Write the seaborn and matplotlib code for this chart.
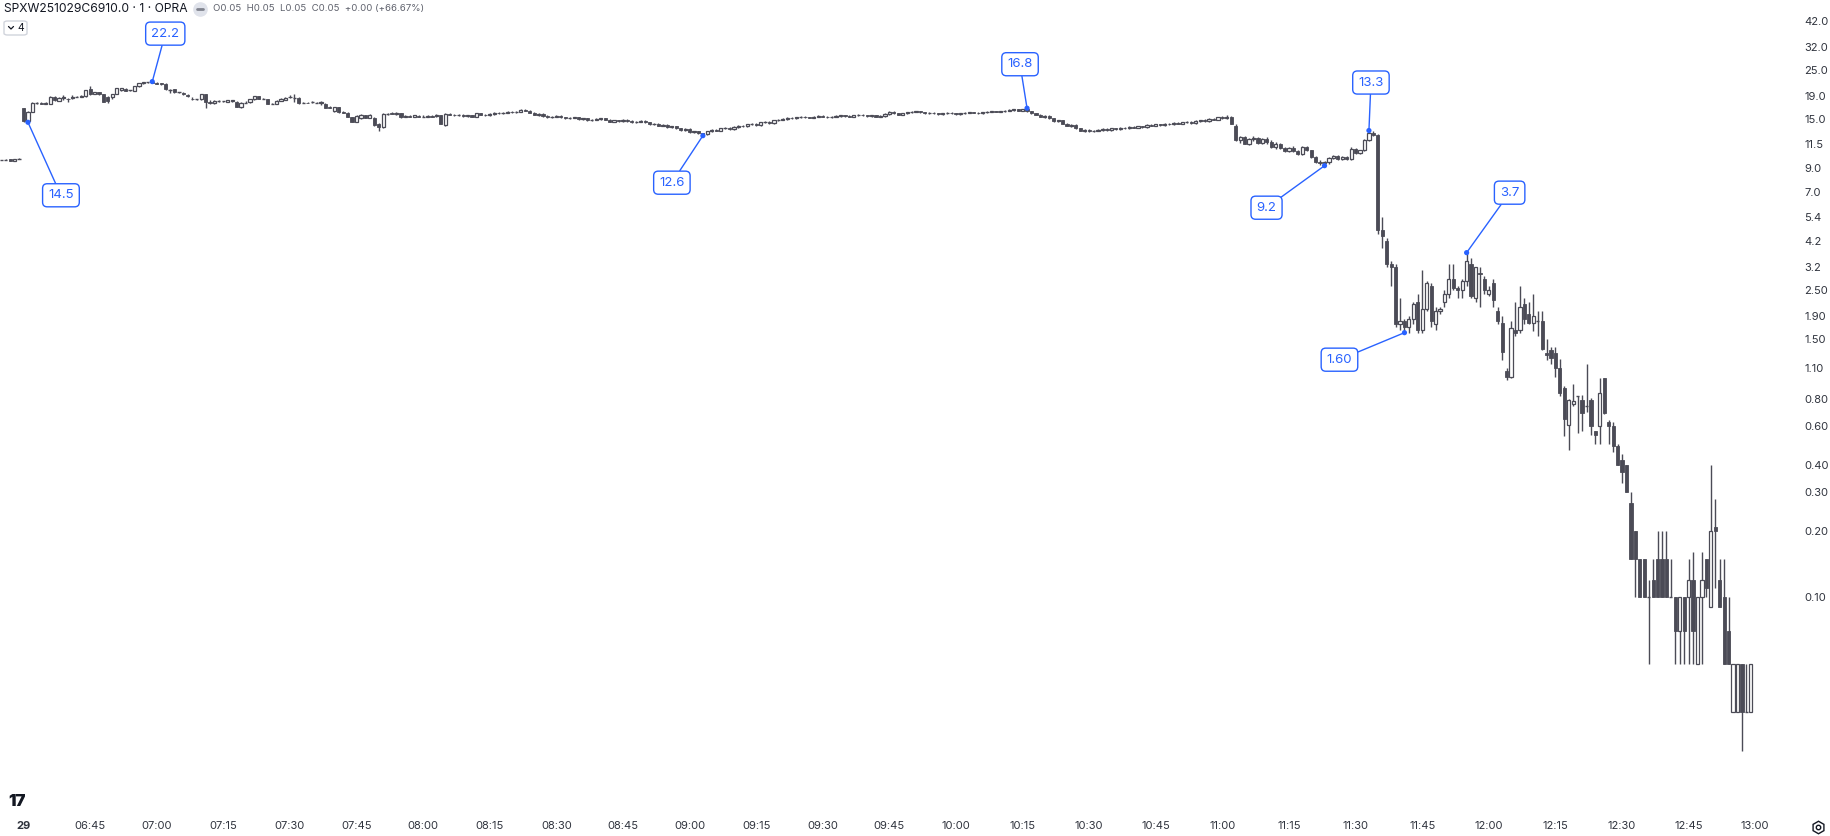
import numpy as np
import pandas as pd
import matplotlib
matplotlib.use("Agg")
import matplotlib.pyplot as plt
import seaborn as sns
from matplotlib.patches import FancyBboxPatch
from matplotlib.lines import Line2D

# ---------------- data (1-minute bars, SPXW251029C6910.0) ----------------
# five last bars of the previous session, then 06:30 ... 12:59 of the 29th
open_ = [
    9.8, 9.8, 9.85, 9.7, 9.9,
    16.8, 14.7, 16.2, 17.8, 17.8, 17.6, 17.6, 18.9, 18.2, 18.7,
    18.6, 18.7, 18.9, 18.9, 19.0, 20.6, 19.5, 19.9, 19.4, 18.9,
    18.8, 19.5, 20.3, 20.6, 20.3, 20.2, 21.1, 21.8, 22.0, 22.1,
    21.9, 21.8, 21.7, 20.3, 20.5, 19.9, 19.8, 19.3, 18.6, 18.5,
    18.5, 19.4, 17.9, 17.7, 18.2, 18.1, 18.0, 18.1, 18.0, 17.0,
    17.8, 17.9, 18.5, 19.0, 18.6, 18.5, 17.6, 17.6, 18.2, 18.4,
    18.8, 18.7, 18.7, 17.8, 17.8, 17.9, 17.8, 17.8, 17.6, 17.1,
    16.4, 17.0, 16.2, 16.0, 15.3, 14.6, 15.1, 15.6, 15.2, 15.2,
    14.3, 13.8, 15.8, 15.9, 15.8, 15.9, 15.4, 15.5, 15.4, 15.5,
    15.4, 15.4, 15.5, 15.5, 15.6, 14.1, 15.8, 15.7, 15.6, 15.7,
    15.5, 15.6, 15.4, 15.9, 15.7, 15.6, 15.8, 16.0, 15.9, 16.0,
    16.2, 16.1, 16.2, 16.5, 16.4, 16.0, 15.7, 15.8, 15.5, 15.3,
    15.4, 15.5, 15.3, 15.1, 15.2, 15.3, 15.0, 15.1, 14.8, 14.9,
    15.0, 15.1, 14.9, 14.6, 14.8, 14.7, 14.9, 14.7, 14.5, 14.6,
    14.7, 14.5, 14.2, 14.3, 14.0, 14.1, 13.8, 13.9, 13.6, 13.4,
    13.5, 13.1, 13.2, 12.9, 12.8, 13.2, 13.4, 13.3, 13.6, 13.7,
    13.5, 13.8, 14.0, 13.9, 14.2, 14.3, 14.1, 14.5, 14.6, 14.4,
    14.8, 14.9, 15.0, 15.2, 15.1, 15.3, 15.4, 15.3, 15.2, 15.4,
    15.5, 15.4, 15.3, 15.4, 15.5, 15.6, 15.5, 15.4, 15.6, 15.7,
    15.6, 15.5, 15.6, 15.4, 15.5, 15.8, 16.2, 15.9, 15.7, 15.9,
    16.1, 16.2, 16.3, 16.1, 15.9, 16.0, 15.9, 15.8, 15.9, 16.0,
    15.9, 15.8, 15.9, 16.0, 16.1, 16.0, 15.9, 16.1, 16.2, 16.3,
    16.2, 16.3, 16.4, 16.5, 16.6, 16.4, 16.7, 16.3, 15.9, 15.7,
    15.4, 15.5, 15.1, 14.7, 14.8, 14.3, 14.0, 14.1, 13.6, 13.3,
    13.4, 13.2, 13.3, 13.4, 13.5, 13.4, 13.6, 13.5, 13.7, 13.6,
    13.8, 13.7, 13.9, 13.8, 14.1, 14.0, 14.2, 14.1, 14.3, 14.2,
    14.4, 14.3, 14.5, 14.6, 14.4, 14.7, 14.8, 14.7, 15.0, 14.9,
    15.3, 15.1, 15.4, 14.0, 12.1, 12.4, 11.6, 12.2, 12.3, 11.7,
    12.2, 11.8, 11.2, 11.6, 11.1, 10.7, 11.1, 10.7, 10.4, 11.2,
    10.8, 10.1, 9.6, 9.5, 9.6, 10.0, 10.2, 9.9, 10.1, 9.9,
    11.0, 10.5, 10.8, 12.0, 12.9, 12.7, 4.7, 4.2, 3.3, 3.2,
    1.75, 1.8, 1.7, 1.85, 2.2, 1.65, 2.05, 2.6, 1.75, 2.0,
    2.2, 2.4, 2.8, 2.55, 2.5, 2.75, 3.3, 2.3, 3.0, 2.8,
    2.4, 2.7, 2.0, 1.77, 1.07, 1.01, 1.65, 1.65, 2.15, 1.95,
    1.77, 1.8, 1.8, 1.3, 1.34, 1.3, 1.1, 0.9, 0.61, 0.76,
    0.82, 0.79, 0.74, 0.79, 0.57, 0.6, 1.0, 0.63, 0.6, 0.49,
    0.42, 0.40, 0.27, 0.20, 0.15, 0.15, 0.10, 0.12, 0.15, 0.15,
    0.15, 0.10, 0.10, 0.07, 0.10, 0.10, 0.12, 0.05, 0.10, 0.15,
    0.09, 0.21, 0.12, 0.10, 0.07, 0.03, 0.03, 0.05, 0.03, 0.03,
]
high = [
    9.8, 9.85, 9.85, 9.85, 10.0,
    16.9, 16.4, 18.0, 18.0, 17.9, 17.9, 19.0, 19.0, 18.9, 19.3,
    18.7, 19.2, 19.1, 19.2, 20.4, 21.2, 20.0, 20.0, 19.5, 19.0,
    19.6, 20.8, 20.8, 20.7, 20.4, 21.2, 21.9, 22.1, 22.1, 22.2,
    22.0, 21.9, 21.8, 20.5, 20.6, 20.0, 19.9, 19.4, 18.8, 18.6,
    19.5, 19.5, 18.3, 18.3, 18.4, 18.2, 18.4, 18.4, 18.1, 17.9,
    18.1, 18.6, 19.1, 19.1, 18.7, 18.6, 17.7, 18.3, 18.7, 18.8,
    19.2, 19.4, 18.8, 17.9, 17.9, 18.1, 17.9, 18.1, 17.7, 17.2,
    17.1, 17.1, 16.3, 16.1, 15.4, 15.6, 15.8, 15.7, 15.8, 15.3,
    14.4, 15.9, 16.0, 16.1, 16.2, 16.0, 15.7, 15.6, 15.7, 15.6,
    15.6, 15.7, 15.6, 15.8, 15.7, 15.9, 16.0, 15.8, 15.8, 15.8,
    15.7, 15.7, 16.0, 16.0, 15.8, 15.9, 16.1, 16.2, 16.1, 16.3,
    16.4, 16.3, 16.6, 16.7, 16.5, 16.1, 15.9, 15.9, 15.6, 15.5,
    15.6, 15.6, 15.4, 15.3, 15.4, 15.4, 15.2, 15.2, 15.0, 15.1,
    15.2, 15.2, 15.0, 14.9, 14.9, 15.0, 15.0, 14.8, 14.7, 14.8,
    14.8, 14.6, 14.4, 14.4, 14.2, 14.2, 14.0, 14.0, 13.7, 13.6,
    13.6, 13.3, 13.3, 13.0, 13.3, 13.5, 13.5, 13.7, 13.8, 13.8,
    13.9, 14.1, 14.1, 14.3, 14.4, 14.4, 14.6, 14.7, 14.7, 14.9,
    15.0, 15.1, 15.3, 15.3, 15.4, 15.5, 15.5, 15.4, 15.5, 15.6,
    15.6, 15.5, 15.5, 15.6, 15.7, 15.7, 15.6, 15.7, 15.8, 15.8,
    15.7, 15.7, 15.7, 15.6, 15.9, 16.3, 16.3, 16.0, 16.0, 16.2,
    16.3, 16.4, 16.4, 16.2, 16.1, 16.1, 16.0, 16.0, 16.1, 16.1,
    16.0, 16.0, 16.1, 16.2, 16.2, 16.1, 16.2, 16.3, 16.4, 16.4,
    16.4, 16.5, 16.6, 16.7, 16.7, 16.7, 16.8, 16.4, 16.0, 15.8,
    15.6, 15.6, 15.2, 14.9, 14.9, 14.4, 14.2, 14.2, 13.7, 13.5,
    13.5, 13.4, 13.5, 13.6, 13.6, 13.7, 13.7, 13.8, 13.8, 13.9,
    13.9, 14.0, 14.0, 14.2, 14.2, 14.3, 14.3, 14.4, 14.4, 14.5,
    14.5, 14.6, 14.7, 14.7, 14.8, 14.9, 15.0, 15.1, 15.2, 15.4,
    15.5, 15.6, 15.5, 14.3, 12.6, 12.5, 12.3, 12.5, 12.4, 12.3,
    12.4, 12.0, 11.8, 11.7, 11.2, 11.2, 11.3, 10.9, 11.3, 11.3,
    10.9, 10.2, 9.8, 9.7, 10.1, 10.3, 10.3, 10.2, 10.2, 11.2,
    11.1, 10.9, 12.2, 13.3, 13.2, 12.8, 5.4, 4.3, 3.4, 3.3,
    2.3, 1.85, 1.9, 2.2, 2.4, 3.1, 2.75, 2.7, 2.1, 2.1,
    2.5, 3.3, 3.3, 2.6, 2.8, 3.7, 3.5, 3.2, 3.2, 2.9,
    2.6, 2.8, 2.1, 1.9, 1.1, 1.8, 2.2, 2.6, 2.3, 2.2,
    2.4, 2.0, 2.0, 1.5, 1.37, 1.37, 1.22, 0.92, 0.8, 0.93,
    0.82, 0.83, 1.15, 0.81, 0.57, 1.0, 1.0, 0.64, 0.63, 0.5,
    0.45, 0.40, 0.30, 0.20, 0.15, 0.15, 0.12, 0.15, 0.20, 0.20,
    0.20, 0.15, 0.10, 0.10, 0.10, 0.15, 0.16, 0.10, 0.16, 0.15,
    0.40, 0.28, 0.15, 0.15, 0.10, 0.05, 0.05, 0.05, 0.05, 0.05,
]
low = [
    9.8, 9.8, 9.7, 9.7, 9.9,
    14.6, 14.5, 16.1, 17.6, 17.5, 17.6, 17.5, 18.2, 18.1, 18.4,
    17.9, 18.6, 18.8, 18.8, 18.9, 19.3, 19.4, 19.3, 18.0, 17.7,
    18.6, 19.4, 20.2, 20.1, 20.2, 20.1, 21.0, 21.7, 21.8, 21.8,
    21.6, 21.5, 20.4, 19.7, 19.8, 19.8, 19.3, 18.9, 18.3, 18.3,
    18.4, 16.9, 17.6, 17.6, 18.0, 18.0, 17.9, 18.0, 17.0, 16.9,
    17.7, 17.8, 18.4, 18.5, 18.5, 17.5, 17.5, 17.5, 18.1, 18.3,
    18.7, 18.0, 17.6, 17.7, 17.7, 17.8, 17.7, 17.3, 16.8, 16.8,
    16.2, 16.0, 15.9, 15.3, 14.5, 14.5, 15.0, 15.1, 15.1, 14.0,
    13.3, 13.7, 15.6, 15.8, 15.7, 15.2, 15.3, 15.3, 15.3, 15.3,
    15.3, 15.3, 15.3, 15.4, 14.2, 14.0, 15.6, 15.5, 15.5, 15.4,
    15.4, 15.3, 15.3, 15.6, 15.5, 15.5, 15.7, 15.8, 15.8, 15.9,
    16.0, 16.0, 16.1, 16.3, 15.9, 15.6, 15.5, 15.4, 15.2, 15.2,
    15.3, 15.2, 15.0, 15.0, 15.1, 14.9, 14.9, 14.7, 14.7, 14.8,
    14.9, 14.8, 14.5, 14.5, 14.6, 14.6, 14.6, 14.4, 14.4, 14.5,
    14.4, 14.1, 14.1, 13.9, 13.9, 13.7, 13.7, 13.5, 13.3, 13.2,
    13.0, 12.9, 12.8, 12.6, 12.7, 13.1, 13.2, 13.2, 13.5, 13.4,
    13.4, 13.7, 13.8, 13.8, 14.1, 14.0, 14.0, 14.4, 14.3, 14.3,
    14.7, 14.8, 14.9, 15.0, 15.0, 15.2, 15.2, 15.1, 15.1, 15.3,
    15.3, 15.2, 15.2, 15.3, 15.4, 15.4, 15.3, 15.3, 15.5, 15.5,
    15.4, 15.4, 15.3, 15.3, 15.4, 15.7, 15.8, 15.6, 15.6, 15.8,
    16.0, 16.1, 16.0, 15.8, 15.8, 15.8, 15.7, 15.7, 15.8, 15.8,
    15.7, 15.7, 15.8, 15.9, 15.9, 15.8, 15.8, 16.0, 16.1, 16.1,
    16.1, 16.2, 16.3, 16.4, 16.3, 16.3, 16.2, 15.8, 15.6, 15.3,
    15.2, 15.0, 14.6, 14.5, 14.2, 13.9, 13.8, 13.5, 13.2, 13.1,
    13.1, 13.1, 13.2, 13.3, 13.3, 13.3, 13.4, 13.4, 13.5, 13.5,
    13.6, 13.6, 13.7, 13.7, 13.9, 13.9, 14.0, 14.0, 14.1, 14.1,
    14.2, 14.2, 14.4, 14.3, 14.3, 14.6, 14.6, 14.6, 14.8, 14.8,
    15.0, 15.0, 14.2, 11.9, 11.7, 11.5, 11.4, 11.9, 11.6, 11.5,
    11.6, 11.1, 11.0, 11.0, 10.6, 10.6, 10.6, 10.3, 10.3, 10.7,
    10.0, 9.5, 9.3, 9.2, 9.4, 9.9, 9.8, 9.8, 9.8, 9.8,
    10.4, 10.4, 10.7, 11.9, 12.6, 4.5, 3.9, 3.2, 2.6, 1.7,
    1.65, 1.6, 1.6, 1.75, 1.6, 1.6, 2.0, 1.7, 1.65, 1.95,
    2.1, 2.3, 2.5, 2.3, 2.3, 2.6, 2.3, 2.2, 2.1, 2.4,
    2.35, 2.1, 1.75, 1.2, 0.97, 1.0, 1.55, 1.6, 1.75, 1.75,
    1.62, 1.55, 1.34, 1.2, 1.15, 1.01, 0.82, 0.54, 0.47, 0.74,
    0.56, 0.57, 0.7, 0.55, 0.5, 0.5, 0.68, 0.5, 0.46, 0.4,
    0.33, 0.30, 0.15, 0.10, 0.10, 0.10, 0.05, 0.10, 0.10, 0.10,
    0.10, 0.10, 0.05, 0.05, 0.05, 0.05, 0.05, 0.05, 0.05, 0.10,
    0.09, 0.11, 0.09, 0.05, 0.05, 0.03, 0.03, 0.02, 0.03, 0.03,
]
close = [
    9.8, 9.8, 9.7, 9.85, 9.9,
    14.7, 16.2, 17.8, 17.8, 17.6, 17.8, 18.9, 18.3, 18.7, 18.8,
    18.5, 18.9, 18.9, 19.0, 20.3, 19.5, 19.9, 19.4, 18.0, 18.1,
    19.5, 20.7, 20.7, 20.2, 20.3, 21.1, 21.8, 22.0, 22.0, 21.9,
    21.7, 21.6, 20.5, 20.3, 19.9, 19.9, 19.4, 19.0, 18.5, 18.5,
    19.4, 17.9, 17.7, 18.2, 18.2, 18.1, 18.3, 18.3, 17.1, 17.8,
    17.8, 18.5, 19.0, 18.6, 18.6, 17.6, 17.6, 18.2, 18.5, 18.7,
    18.9, 18.7, 17.7, 17.8, 17.7, 17.9, 17.8, 17.9, 16.9, 16.9,
    17.0, 16.1, 16.0, 15.4, 14.6, 15.5, 15.7, 15.1, 15.7, 14.1,
    13.8, 15.8, 15.8, 15.8, 16.0, 15.3, 15.5, 15.4, 15.6, 15.4,
    15.4, 15.5, 15.4, 15.6, 14.3, 15.8, 15.7, 15.6, 15.7, 15.5,
    15.6, 15.4, 15.9, 15.7, 15.6, 15.8, 16.0, 15.9, 16.0, 16.2,
    16.1, 16.2, 16.5, 16.4, 16.0, 15.7, 15.8, 15.5, 15.3, 15.4,
    15.5, 15.3, 15.1, 15.2, 15.3, 15.0, 15.1, 14.8, 14.9, 15.0,
    15.1, 14.9, 14.6, 14.8, 14.7, 14.9, 14.7, 14.5, 14.6, 14.7,
    14.5, 14.2, 14.3, 14.0, 14.1, 13.8, 13.9, 13.6, 13.4, 13.5,
    13.1, 13.2, 12.9, 12.8, 13.2, 13.4, 13.3, 13.6, 13.7, 13.5,
    13.8, 14.0, 13.9, 14.2, 14.3, 14.1, 14.5, 14.6, 14.4, 14.8,
    14.9, 15.0, 15.2, 15.1, 15.3, 15.4, 15.3, 15.2, 15.4, 15.5,
    15.4, 15.3, 15.4, 15.5, 15.6, 15.5, 15.4, 15.6, 15.7, 15.6,
    15.5, 15.6, 15.4, 15.5, 15.8, 16.2, 15.9, 15.7, 15.9, 16.1,
    16.2, 16.3, 16.1, 15.9, 16.0, 15.9, 15.8, 15.9, 16.0, 15.9,
    15.8, 15.9, 16.0, 16.1, 16.0, 15.9, 16.1, 16.2, 16.3, 16.2,
    16.3, 16.4, 16.5, 16.6, 16.4, 16.7, 16.3, 15.9, 15.7, 15.4,
    15.5, 15.1, 14.7, 14.8, 14.3, 14.0, 14.1, 13.6, 13.3, 13.4,
    13.2, 13.3, 13.4, 13.5, 13.4, 13.6, 13.5, 13.7, 13.6, 13.8,
    13.7, 13.9, 13.8, 14.1, 14.0, 14.2, 14.1, 14.3, 14.2, 14.4,
    14.3, 14.5, 14.6, 14.4, 14.7, 14.8, 14.7, 15.0, 14.9, 15.3,
    15.1, 15.4, 14.3, 12.1, 12.4, 11.6, 12.2, 12.3, 11.7, 12.2,
    11.8, 11.2, 11.6, 11.1, 10.7, 11.1, 10.7, 10.4, 11.2, 10.8,
    10.1, 9.6, 9.5, 9.6, 10.0, 10.2, 9.9, 10.1, 9.9, 11.0,
    10.5, 10.8, 12.0, 12.9, 12.7, 4.7, 4.4, 3.3, 3.2, 1.75,
    1.8, 1.7, 1.85, 2.15, 1.65, 2.05, 2.7, 1.8, 2.0, 2.05,
    2.4, 2.8, 2.55, 2.5, 2.75, 3.4, 2.35, 3.2, 2.95, 2.5,
    2.5, 2.25, 1.8, 1.31, 1.01, 1.68, 1.59, 2.1, 1.85, 1.77,
    1.9, 1.8, 1.35, 1.26, 1.23, 1.1, 0.85, 0.65, 0.79, 0.78,
    0.82, 0.69, 0.74, 0.6, 0.55, 0.85, 0.69, 0.6, 0.49, 0.4,
    0.37, 0.30, 0.15, 0.15, 0.10, 0.10, 0.10, 0.10, 0.10, 0.10,
    0.10, 0.10, 0.07, 0.10, 0.07, 0.12, 0.07, 0.10, 0.12, 0.11,
    0.20, 0.20, 0.09, 0.05, 0.05, 0.05, 0.05, 0.03, 0.03, 0.05,
]
n_prev = 5  # bars shown from the previous session

# pivot high/low labels (bar number from 06:30, price, label)
pivot_bar = [1, 29, 153, 226, 293, 303, 311, 325]
pivot_price = [14.5, 22.2, 12.6, 16.8, 9.2, 13.3, 1.60, 3.7]
pivot_text = ["14.5", "22.2", "12.6", "16.8", "9.2", "13.3", "1.60", "3.7"]

time_labels = ["29", "06:45", "07:00", "07:15", "07:30", "07:45", "08:00", "08:15",
               "08:30", "08:45", "09:00", "09:15", "09:30", "09:45", "10:00", "10:15",
               "10:30", "10:45", "11:00", "11:15", "11:30", "11:45", "12:00", "12:15",
               "12:30", "12:45", "13:00"]
price_ticks = [42.0, 32.0, 25.0, 19.0, 15.0, 11.5, 9.0, 7.0, 5.4, 4.2, 3.2, 2.50, 1.90,
               1.50, 1.10, 0.80, 0.60, 0.40, 0.30, 0.20, 0.10]
price_tick_labels = ["42.0", "32.0", "25.0", "19.0", "15.0", "11.5", "9.0", "7.0", "5.4",
                     "4.2", "3.2", "2.50", "1.90", "1.50", "1.10", "0.80", "0.60", "0.40",
                     "0.30", "0.20", "0.10"]

# ---------------- figure ----------------
sns.set_theme(style="white")
plt.rcParams['font.family'] = ['Inter', 'DejaVu Sans']
W, H = 1831, 836
fig = plt.figure(figsize=(W / 100, H / 100), dpi=100)
fig.patch.set_facecolor("white")
PLOT_BOTTOM, PLOT_RIGHT = 806, 1785
ax = fig.add_axes([0, (H - PLOT_BOTTOM) / H, PLOT_RIGHT / W, PLOT_BOTTOM / H])
ax.set_facecolor("white")

df = pd.DataFrame({"open": open_, "high": high, "low": low, "close": close})
df["bar"] = np.arange(len(df)) - n_prev

DARK = "#4b4b56"
BODY_W = 0.72
up = df["close"] > df["open"]
down = df["close"] < df["open"]
flat = df["close"] == df["open"]

ax.vlines(df["bar"], df["low"], df["high"], color=DARK, lw=1.0, zorder=2)
ax.bar(df.loc[down, "bar"], (df["open"] - df["close"])[down], bottom=df.loc[down, "close"],
       width=BODY_W, color=DARK, edgecolor=DARK, lw=0.6, zorder=3)
ax.bar(df.loc[up, "bar"], (df["close"] - df["open"])[up], bottom=df.loc[up, "open"],
       width=BODY_W, color="white", edgecolor=DARK, lw=0.9, zorder=3)
ax.hlines(df.loc[flat, "close"], df.loc[flat, "bar"] - BODY_W / 2, df.loc[flat, "bar"] + BODY_W / 2,
          color=DARK, lw=1.0, zorder=3)

ax.set_yscale("log")
ax.set_ylim(0.01124, 52.2)
ax.set_xlim(-5.293, 396.7)

# pivot labels
BLUE = "#2962ff"
piv = pd.DataFrame({"bar": pivot_bar, "price": pivot_price})
sns.scatterplot(data=piv, x="bar", y="price", ax=ax, color=BLUE, s=14, edgecolor="none",
                zorder=6, legend=False)
offsets = [(33, -73), (13, 48), (-31, -47), (-7, 44), (-58, -42), (2, 48), (-65, -27), (43, 60)]
for b, p, t, off in zip(pivot_bar, pivot_price, pivot_text, offsets):
    ax.annotate(t, xy=(b, p), xytext=off, textcoords="offset pixels", ha="center", va="center",
                fontsize=9.5, color=BLUE, zorder=7,
                bbox=dict(boxstyle="round,pad=0.42,rounding_size=0.35", fc="white", ec=BLUE, lw=1.0),
                arrowprops=dict(arrowstyle="-", color=BLUE, lw=1.0, shrinkA=0, shrinkB=1))

# axes styling
for s in ax.spines.values():
    s.set_visible(False)
ax.grid(False)
ax.yaxis.tick_right()
ax.set_yticks(price_ticks)
ax.set_yticklabels(price_tick_labels)
ax.yaxis.set_minor_locator(matplotlib.ticker.NullLocator())
ax.tick_params(axis="y", length=0, pad=14, labelsize=8, labelcolor="#2f333d")
ax.set_xticks(np.arange(0, 15 * len(time_labels), 15))
ax.set_xticklabels(time_labels)
ax.tick_params(axis="x", length=0, pad=11, labelsize=8, labelcolor="#2f333d")
ax.get_xticklabels()[0].set_fontweight("bold")
ax.set_xlabel("")
ax.set_ylabel("")

# header
def fx(px):
    return px / W

def fy(py):
    return 1 - py / H

fig.text(fx(4), fy(9), "SPXW251029C6910.0 · 1 · OPRA", ha="left", va="center",
         fontsize=8.7, color="#131722")
fig.add_artist(Line2D([fx(200)], [fy(9)], marker="o", markersize=9.5, color="#e0e3eb",
                      transform=fig.transFigure))
fig.add_artist(Line2D([fx(197), fx(203)], [fy(9), fy(9)], color="#80838e", lw=2,
                      transform=fig.transFigure))
fig.text(fx(213), fy(9), "O0.05  H0.05  L0.05  C0.05  +0.00 (+66.67%)", ha="left", va="center",
         fontsize=6.9, color="#5d606b")
fig.add_artist(FancyBboxPatch((fx(4), fy(35)), fx(23), 14 / H,
                              boxstyle="round,pad=0,rounding_size=0.002",
                              fc="white", ec="#d1d4dc", lw=1, transform=fig.transFigure))
fig.add_artist(Line2D([fx(8.5), fx(11), fx(13.5)], [fy(26.5), fy(29), fy(26.5)], color="#131722",
                      lw=0.9, transform=fig.transFigure))
fig.text(fx(20.5), fy(28), "4", ha="center", va="center", fontsize=7.5, color="#131722")

# TradingView logo & settings icon
fig.text(fx(17), fy(802), "17", ha="center", va="center", fontsize=12, fontweight="black",
         color="#131722")
fig.add_artist(Line2D([fx(1818)], [fy(827)], marker="h", markersize=9, mfc="white",
                      mec="#131722", mew=1, transform=fig.transFigure))
fig.add_artist(Line2D([fx(1818)], [fy(827)], marker="o", markersize=3.2, mfc="white",
                      mec="#131722", mew=1, transform=fig.transFigure))

fig.savefig("out.png", dpi=100, facecolor="white")
